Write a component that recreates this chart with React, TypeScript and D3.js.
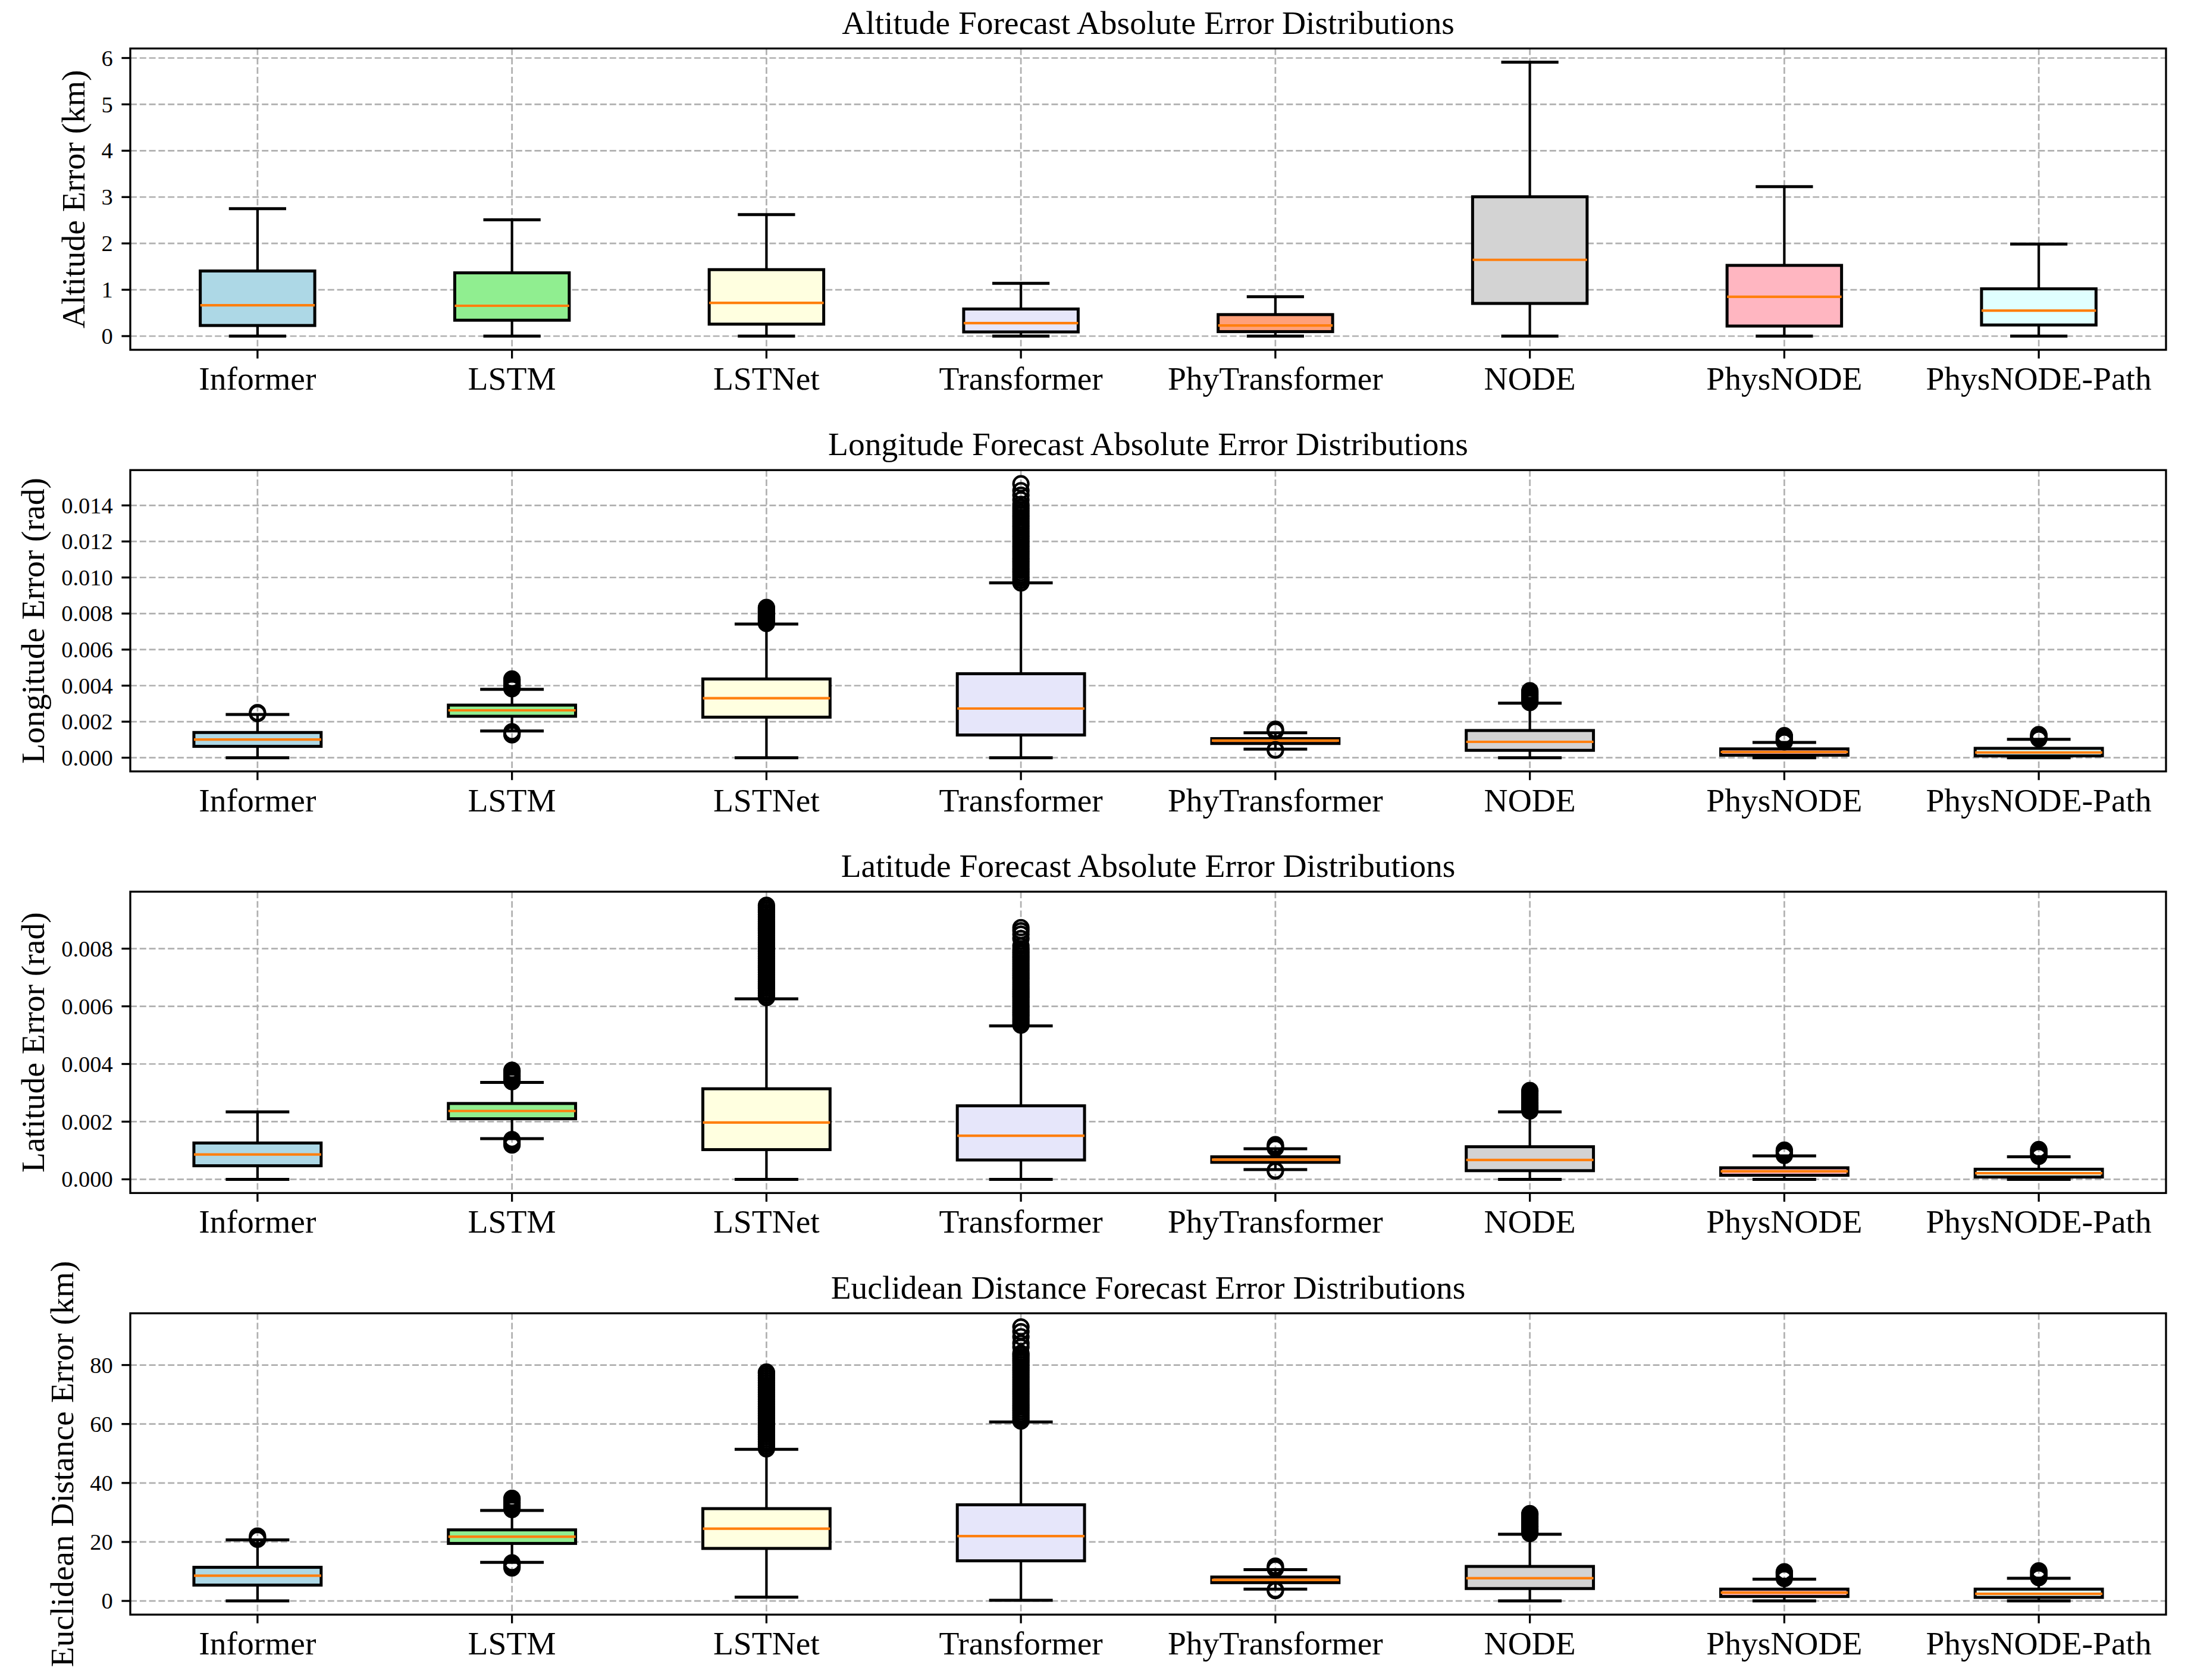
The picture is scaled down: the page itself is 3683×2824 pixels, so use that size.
import React from 'react';
import * as d3 from 'd3';

// ---------------- data ----------------
const categories = ['Informer', 'LSTM', 'LSTNet', 'Transformer', 'PhyTransformer', 'NODE', 'PhysNODE', 'PhysNODE-Path'];
const boxColors = ['#add8e6', '#90ee90', '#ffffe0', '#e6e6fa', '#ffa07a', '#d3d3d3', '#ffb6c1', '#e0ffff'];

const titles = [
  'Altitude Forecast Absolute Error Distributions',
  'Longitude Forecast Absolute Error Distributions',
  'Latitude Forecast Absolute Error Distributions',
  'Euclidean Distance Forecast Error Distributions',
];
const yLabels = ['Altitude Error (km)', 'Longitude Error (rad)', 'Latitude Error (rad)', 'Euclidean Distance Error (km)'];

// Altitude (km)
const altLow = [0, 0, 0, 0, 0, 0, 0, 0];
const altQ1 = [0.229, 0.343, 0.258, 0.09, 0.097, 0.705, 0.217, 0.24];
const altMed = [0.665, 0.654, 0.717, 0.28, 0.229, 1.646, 0.848, 0.55];
const altQ3 = [1.405, 1.365, 1.434, 0.585, 0.464, 3.006, 1.526, 1.02];
const altHigh = [2.75, 2.51, 2.62, 1.14, 0.85, 5.91, 3.225, 1.985];
const altOutliers: number[][] = [[], [], [], [], [], [], [], []];
const altTicks = [0, 1, 2, 3, 4, 5, 6];

// Longitude (rad)
const lonLow = [0, 0.00148, 0, 0, 0.00048, 0, 0, 0];
const lonQ1 = [0.00063, 0.0023, 0.00225, 0.00126, 0.00079, 0.00041, 0.00014, 0.0001];
const lonMed = [0.00101, 0.00263, 0.0033, 0.00273, 0.00095, 0.00088, 0.00032, 0.00029];
const lonQ3 = [0.0014, 0.00292, 0.00437, 0.00466, 0.00106, 0.00151, 0.00049, 0.00052];
const lonHigh = [0.0024, 0.00379, 0.00742, 0.0097, 0.00138, 0.00303, 0.00085, 0.00102];
const lonOutliers: number[][] = [
  [0.00245, 0.0025],
  [0.00383, 0.00388, 0.00393, 0.00398, 0.00403, 0.00408, 0.00414, 0.0042, 0.00426, 0.00432, 0.00437,
    0.00144, 0.0014, 0.00136, 0.00132, 0.00127],
  [0.00745, 0.00751, 0.00757, 0.00763, 0.00769, 0.00775, 0.00781, 0.00787, 0.00793, 0.00799, 0.00805,
    0.00811, 0.00817, 0.00823, 0.00829, 0.00834],
  [0.0097, 0.00984, 0.00998, 0.01012, 0.01026, 0.0104, 0.01054, 0.01068, 0.01082, 0.01096, 0.0111,
    0.01124, 0.01138, 0.01152, 0.01166, 0.0118, 0.01194, 0.01208, 0.01222, 0.01236, 0.0125, 0.01264,
    0.01278, 0.01292, 0.01306, 0.0132, 0.01334, 0.01348, 0.01362, 0.01376, 0.0139, 0.01406, 0.01431,
    0.01457, 0.01482, 0.0152],
  [0.00042, 0.00044, 0.00148, 0.00153, 0.00158],
  [0.00306, 0.00311, 0.00316, 0.00321, 0.00326, 0.00331, 0.00336, 0.00341, 0.00346, 0.00351, 0.00356,
    0.00361, 0.00366, 0.00372],
  [0.00088, 0.00092, 0.00096, 0.001, 0.00104, 0.00108, 0.00113, 0.00118, 0.00122],
  [0.00105, 0.00109, 0.00113, 0.00117, 0.00121, 0.00125, 0.00128],
];
const lonTicks = [0, 0.002, 0.004, 0.006, 0.008, 0.01, 0.012, 0.014];

// Latitude (rad)
const latLow = [0, 0.00141, 0, 0, 0.00034, 0, 0, 0];
const latQ1 = [0.00047, 0.0021, 0.00103, 0.00067, 0.00059, 0.0003, 0.00014, 0.00008];
const latMed = [0.00086, 0.00237, 0.00197, 0.00151, 0.00068, 0.00067, 0.00028, 0.00021];
const latQ3 = [0.00126, 0.00263, 0.00314, 0.00255, 0.00078, 0.00113, 0.0004, 0.00035];
const latHigh = [0.00234, 0.00336, 0.00626, 0.00532, 0.00106, 0.00234, 0.00081, 0.00078];
const latOutliers: number[][] = [
  [],
  [0.00339, 0.00344, 0.00349, 0.00354, 0.00359, 0.00364, 0.00369, 0.00374, 0.00378,
    0.00119, 0.00124, 0.00129, 0.00134, 0.00138],
  [0.0063, 0.00638, 0.00646, 0.00654, 0.00662, 0.0067, 0.00678, 0.00686, 0.00694, 0.00702, 0.0071,
    0.00718, 0.00726, 0.00734, 0.00742, 0.0075, 0.00758, 0.00766, 0.00774, 0.00782, 0.0079, 0.00798,
    0.00806, 0.00814, 0.00822, 0.0083, 0.00838, 0.00846, 0.00854, 0.00862, 0.0087, 0.00878, 0.00886,
    0.00894, 0.00902, 0.0091, 0.00918, 0.00926, 0.00934, 0.00942, 0.0095],
  [0.00535, 0.00543, 0.00551, 0.00559, 0.00567, 0.00575, 0.00583, 0.00591, 0.00599, 0.00607, 0.00615,
    0.00623, 0.00631, 0.00639, 0.00647, 0.00655, 0.00663, 0.00671, 0.00679, 0.00687, 0.00695, 0.00703,
    0.00711, 0.00719, 0.00727, 0.00735, 0.00743, 0.00751, 0.00759, 0.00767, 0.00775, 0.00783, 0.00791,
    0.00799, 0.0081, 0.00835, 0.0085, 0.00862, 0.00873],
  [0.00029, 0.00031, 0.00108, 0.00112, 0.00116, 0.0012],
  [0.00237, 0.00243, 0.00249, 0.00255, 0.00261, 0.00267, 0.00273, 0.00279, 0.00285, 0.00291, 0.00297,
    0.00303, 0.00308],
  [0.00083, 0.00087, 0.00091, 0.00095, 0.00098, 0.00101],
  [0.0008, 0.00084, 0.00088, 0.00092, 0.00096, 0.001, 0.00103],
];
const latTicks = [0, 0.002, 0.004, 0.006, 0.008];

// Euclidean distance (km)
const eucLow = [0, 13.1, 1.3, 0.2, 4.0, 0, 0, 0];
const eucQ1 = [5.37, 19.5, 17.8, 13.6, 6.2, 4.2, 1.5, 1.2];
const eucMed = [8.56, 21.8, 24.5, 22.0, 7.1, 7.7, 2.8, 2.4];
const eucQ3 = [11.4, 24.1, 31.3, 32.6, 8.1, 11.7, 4.0, 4.0];
const eucHigh = [20.7, 30.7, 51.4, 60.7, 10.6, 22.6, 7.4, 7.7];
const eucOutliers: number[][] = [
  [20.9, 21.4, 22.0],
  [31.0, 31.5, 32.0, 32.5, 33.0, 33.5, 34.0, 34.4, 34.8, 11.2, 11.6, 12.0, 12.4, 12.9],
  [51.6, 52.4, 53.2, 54.0, 54.8, 55.6, 56.4, 57.2, 58.0, 58.8, 59.6, 60.4, 61.2, 62.0, 62.8, 63.6, 64.4,
    65.2, 66.0, 66.8, 67.6, 68.4, 69.2, 70.0, 70.8, 71.6, 72.4, 73.2, 74.0, 74.8, 75.6, 76.4, 77.2, 77.6],
  [61.0, 61.8, 62.6, 63.4, 64.2, 65.0, 65.8, 66.6, 67.4, 68.2, 69.0, 69.8, 70.6, 71.4, 72.2, 73.0, 73.8,
    74.6, 75.4, 76.2, 77.0, 77.8, 78.6, 79.4, 80.2, 81.0, 81.8, 82.6, 83.4, 84.0, 86.1, 87.4, 89.6, 91.3, 92.9],
  [3.5, 3.8, 10.9, 11.3, 11.8],
  [22.9, 23.4, 23.9, 24.4, 24.9, 25.4, 25.9, 26.4, 26.9, 27.4, 27.9, 28.4, 28.9, 29.3, 29.6],
  [7.6, 8.0, 8.4, 8.8, 9.2, 9.6, 9.9],
  [7.9, 8.3, 8.7, 9.1, 9.5, 9.9, 10.2],
];
const eucTicks = [0, 20, 40, 60, 80];

// ---------------- layout / style ----------------
const W = 3683;
const H = 2824;
const LEFT = 219;
const RIGHT = 3641;
const TOP0 = 81.5;
const STEP = 708.7;
const PH = 506.5;
const FONT = "'Liberation Serif', 'Times New Roman', Times, serif";
const BIG = 55.5;
const SMALL = 38.5;
const TICK = 14.6;
const GRID = '#b0b0b0';

interface Panel {
  low: number[]; q1: number[]; med: number[]; q3: number[]; high: number[];
  outliers: number[][]; ticks: number[]; fmt: (v: number) => string; boxW: number;
}

const panels: Panel[] = [
  { low: altLow, q1: altQ1, med: altMed, q3: altQ3, high: altHigh, outliers: altOutliers, ticks: altTicks, fmt: d3.format('d'), boxW: 0.45 },
  { low: lonLow, q1: lonQ1, med: lonMed, q3: lonQ3, high: lonHigh, outliers: lonOutliers, ticks: lonTicks, fmt: d3.format('.3f'), boxW: 0.5 },
  { low: latLow, q1: latQ1, med: latMed, q3: latQ3, high: latHigh, outliers: latOutliers, ticks: latTicks, fmt: d3.format('.3f'), boxW: 0.5 },
  { low: eucLow, q1: eucQ1, med: eucMed, q3: eucQ3, high: eucHigh, outliers: eucOutliers, ticks: eucTicks, fmt: d3.format('d'), boxW: 0.5 },
];

const labelWidth = (s: string) => s.split('').reduce((a, c) => a + (c === '.' ? 0.25 : 0.5), 0) * SMALL;

function PanelView({ p, i }: { p: Panel; i: number }) {
  const top = TOP0 + i * STEP;
  const bottom = top + PH;
  const all = [...p.low, ...p.high, ...p.outliers.flat()];
  const lo = d3.min(all) as number;
  const hi = d3.max(all) as number;
  const r = hi - lo;
  const y = d3.scaleLinear().domain([lo - 0.05 * r, hi + 0.05 * r]).range([bottom, top]);
  const x = d3.scaleLinear().domain([0.5, categories.length + 0.5]).range([LEFT, RIGHT]);
  const half = (p.boxW / 2) * (x(1) - x(0));
  const capHalf = half / 2;
  const tickLabels = p.ticks.map(p.fmt);
  const maxW = d3.max(tickLabels, labelWidth) as number;
  const ylx = LEFT - 2 * TICK - maxW - 16.7 - 12;
  const clipId = `clip${i}`;

  return (
    <g>
      <defs>
        <clipPath id={clipId}>
          <rect x={LEFT} y={top} width={RIGHT - LEFT} height={PH} />
        </clipPath>
      </defs>
      {/* grid */}
      {p.ticks.map((t) => (
        <line key={`gy${t}`} x1={LEFT} x2={RIGHT} y1={y(t)} y2={y(t)} stroke={GRID} strokeWidth={2.7} strokeDasharray="11 4.8" />
      ))}
      {categories.map((c, k) => (
        <line key={`gx${c}`} x1={x(k + 1)} x2={x(k + 1)} y1={top} y2={bottom} stroke={GRID} strokeWidth={2.7} strokeDasharray="11 4.8" />
      ))}
      <g clipPath={`url(#${clipId})`}>
        {categories.map((c, k) => {
          const cx = x(k + 1);
          return (
            <g key={c}>
              <rect x={cx - half} y={y(p.q3[k])} width={2 * half} height={y(p.q1[k]) - y(p.q3[k])}
                fill={boxColors[k]} stroke="#000" strokeWidth={5} />
              <line x1={cx} x2={cx} y1={y(p.q1[k])} y2={y(p.low[k])} stroke="#000" strokeWidth={4.2} />
              <line x1={cx} x2={cx} y1={y(p.q3[k])} y2={y(p.high[k])} stroke="#000" strokeWidth={4.2} />
              <line x1={cx - capHalf} x2={cx + capHalf} y1={y(p.low[k])} y2={y(p.low[k])} stroke="#000" strokeWidth={5} />
              <line x1={cx - capHalf} x2={cx + capHalf} y1={y(p.high[k])} y2={y(p.high[k])} stroke="#000" strokeWidth={5} />
              <line x1={cx - half} x2={cx + half} y1={y(p.med[k])} y2={y(p.med[k])} stroke="#ff7f0e" strokeWidth={4.2} />
              {p.outliers[k].map((v, j) => (
                <circle key={j} cx={cx} cy={y(v)} r={12.5} fill="none" stroke="#000" strokeWidth={4.2} />
              ))}
            </g>
          );
        })}
      </g>
      {/* spines */}
      <rect x={LEFT} y={top} width={RIGHT - LEFT} height={PH} fill="none" stroke="#000" strokeWidth={3.3} />
      {/* y ticks */}
      {p.ticks.map((t, k) => (
        <g key={`ty${t}`}>
          <line x1={LEFT - TICK} x2={LEFT} y1={y(t)} y2={y(t)} stroke="#000" strokeWidth={3.3} />
          <text x={LEFT - 2 * TICK} y={y(t)} dy="0.34em" textAnchor="end" fontFamily={FONT} fontSize={SMALL} fill="#000">
            {tickLabels[k]}
          </text>
        </g>
      ))}
      {/* x ticks */}
      {categories.map((c, k) => (
        <g key={`tx${c}`}>
          <line x1={x(k + 1)} x2={x(k + 1)} y1={bottom} y2={bottom + TICK} stroke="#000" strokeWidth={3.3} />
          <text x={x(k + 1)} y={bottom + 67} textAnchor="middle" fontFamily={FONT} fontSize={BIG} fill="#000">
            {c}
          </text>
        </g>
      ))}
      <text x={(LEFT + RIGHT) / 2} y={top - 25} textAnchor="middle" fontFamily={FONT} fontSize={BIG} fill="#000">
        {titles[i]}
      </text>
      <text transform={`translate(${ylx},${(top + bottom) / 2}) rotate(-90)`} textAnchor="middle"
        fontFamily={FONT} fontSize={BIG} fill="#000">
        {yLabels[i]}
      </text>
    </g>
  );
}

export default function App() {
  return (
    <svg width={W} height={H} viewBox={`0 0 ${W} ${H}`}
      style={{ position: 'absolute', left: 0, top: 0, display: 'block', background: '#fff' }}>
      <rect x={0} y={0} width={W} height={H} fill="#fff" />
      {panels.map((p, i) => (
        <PanelView key={i} p={p} i={i} />
      ))}
    </svg>
  );
}
